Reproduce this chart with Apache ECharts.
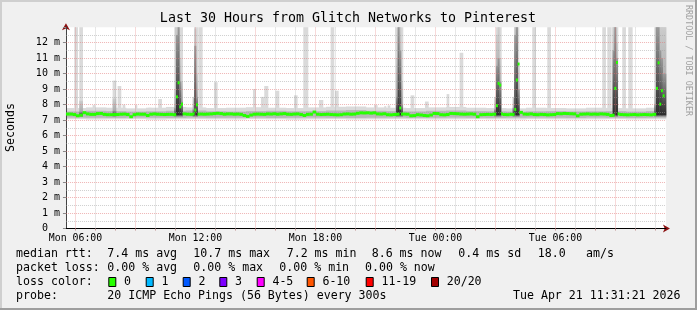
<!DOCTYPE html>
<html><head><meta charset="utf-8">
<script src="https://cdn.jsdelivr.net/npm/echarts@6/dist/echarts.min.js"></script>
<style>html,body{margin:0;padding:0;background:#f0f0f0;overflow:hidden}#c{width:697px;height:310px}</style>
</head><body><div id="c"></div><script>
// ---------------- data (minutes since Mon 05:31:21, values in ms) ----------------
const X_LABELS = ['Mon 06:00', 'Mon 12:00', 'Mon 18:00', 'Tue 00:00', 'Tue 06:00'];
const X_LABEL_MIN = [28.65, 388.65, 748.65, 1108.65, 1468.65];
const HOUR0_MIN = 28.65;      // first full hour (Mon 06:00)
const HOURS = 30;
const X_MAX = 1800;

const MED_STEP = 10;
const medBase = [
 7.39,7.39,7.36,7.28,7.32,7.48,7.40,7.37,7.37,7.42,
 7.43,7.37,7.35,7.35,7.36,7.36,7.38,7.39,7.36,7.22,
 7.35,7.39,7.38,7.38,7.30,7.38,7.40,7.38,7.37,7.36,
 7.37,7.37,7.35,null,null,7.40,7.38,7.37,null,null,
 7.39,7.38,7.39,7.40,7.42,7.44,7.42,7.38,7.40,7.40,
 7.38,7.39,7.37,7.30,7.24,7.33,7.38,7.39,7.38,7.37,
 7.40,7.39,7.41,7.38,7.40,7.42,7.38,7.37,7.39,7.40,
 7.36,7.30,7.37,7.38,7.52,7.38,7.36,7.37,7.38,7.36,
 7.35,7.34,7.35,7.39,7.40,7.38,7.39,7.44,7.47,7.46,
 7.47,7.45,7.47,7.40,7.39,7.41,7.35,7.34,7.36,7.38,
 null,7.39,7.38,7.28,7.29,7.35,7.33,7.30,7.28,7.33,
 7.43,7.42,7.35,7.34,7.36,7.43,7.42,7.41,7.39,7.38,
 7.39,7.40,7.38,7.22,7.35,7.36,7.37,7.36,7.38,null,
 null,7.36,7.35,7.37,null,null,7.50,7.39,7.38,7.40,
 7.36,7.35,7.37,7.36,7.34,7.35,7.36,7.42,7.41,7.43,
 7.42,7.41,7.40,7.28,7.38,7.39,7.40,7.38,7.39,7.38,
 7.40,7.39,7.37,7.30,null,null,7.36,7.35,7.34,7.35,
 7.36,7.34,7.35,7.36,7.35,7.34,7.37,null,null,null
];
const SPIKE_STEP = 5;
const spikeT = [330,335,340,345, 380,385,390,395, 1000,1005, 1290,1295,1300,1305,
                1340,1345,1350,1355, 1640,1645,1650,1655, 1770,1775,1780,1785,1790];
const spikeV = [8.50,9.41,7.86,8.03, 7.40,7.65,7.99,7.38, 7.78,7.39, 7.93,9.37,9.26,7.40,
                7.36,7.69,9.59,10.62, 7.32,9.05,10.72,7.40, 9.05,10.70,8.03,8.90,8.57];

// baseline smoke band, hourly
const BAND_STEP = 60;
const bandLo    = [7.06,7.04,7.05,7.06,7.03,7.05,7.06,7.05,7.04,7.06,7.05,7.03,7.05,7.06,7.04,7.05,7.06,7.05,7.04,7.05,7.06,7.05,7.04,7.06,7.05,7.04,7.05,7.06,7.04,7.05];
const bandMidLo = [7.16,7.15,7.14,7.16,7.15,7.14,7.16,7.15,7.15,7.16,7.14,7.15,7.16,7.15,7.14,7.15,7.16,7.14,7.15,7.16,7.15,7.14,7.15,7.16,7.15,7.14,7.16,7.15,7.14,7.15];
const bandMid   = [7.56,7.60,7.58,7.55,7.57,7.60,7.62,7.57,7.55,7.58,7.60,7.57,7.58,7.62,7.65,7.60,7.58,7.56,7.60,7.62,7.58,7.57,7.55,7.57,7.58,7.56,7.57,7.58,7.55,7.58];
const bandHi    = [7.78,7.82,7.80,7.76,7.80,7.85,7.82,7.78,7.80,7.83,7.80,7.78,7.82,7.86,7.88,7.82,7.80,7.78,7.82,7.85,7.80,7.78,7.76,7.80,7.78,7.76,7.80,7.78,7.76,7.80];

// max-ping (light smoke) bars
const maxS   = [25,40,80,140,155,170,207,247,277,325,384,397,444,561,585,595,629,684,712,759,794,807,924,955,965,989,1034,1077,1142,1181,1290,1344,1399,1444,1609,1624,1639,1669,1687,1765];
const maxE   = [35,50,87,150,165,177,213,255,287,350,395,409,454,569,595,606,639,694,726,771,804,817,934,960,972,1011,1044,1087,1149,1191,1306,1359,1409,1454,1619,1636,1656,1679,1699,1800];
const maxTop = [13,13,7.97,9.55,9.2,8.0,7.97,7.8,8.36,13,13,13,9.45,9.0,8.5,9.2,8.9,8.6,13,8.3,13,8.9,7.97,7.9,7.95,13,8.6,8.2,8.68,11.35,13,13,13,13,13,13,13,13,13,13];

// dense smoke during spikes
const coreS    = [40,140,325,330,335,340,345,380,385,390,990,995,1000,1005,1285,1290,1295,1300,1340,1345,1350,1355,1640,1645,1650,1765,1770,1775,1780,1785,1790];
const coreE    = [50,150,330,335,340,345,350,385,390,395,995,1000,1005,1010,1290,1295,1300,1305,1345,1350,1355,1360,1645,1650,1655,1770,1775,1780,1785,1790,1800];
const coreMid  = [8.25,8.4,9.0,13,13,11,9.5,8.5,12.9,10,11,13,13,9.5,8.5,12.5,13,11,8.5,13,13,10.5,13,13,12,9,13,13,13,13,13];
const coreDark = [7.55,7.6,7.8,12.5,13,9.5,8.2,7.7,11.8,8.5,8.5,13,11.5,8,7.7,10.5,11,9.5,7.8,12.5,13,9,11.5,13,11,8,13,13,11.5,11,10];

// legend texts
const L_RTT  = ['median rtt:', '7.4 ms avg', '10.7 ms max', '7.2 ms min', '8.6 ms now', '0.4 ms sd', '18.0', 'am/s'];
const L_LOSS = ['packet loss:', '0.00 % avg', '0.00 % max', '0.00 % min', '0.00 % now'];
const LOSS_NAMES  = ['0', '1', '2', '3', '4-5', '6-10', '11-19', '20/20'];
const LOSS_COLORS = ['#26ff00', '#00b8ff', '#0059ff', '#7e00ff', '#ff00ff', '#ff5500', '#ff0000', '#a10000'];
const PROBE = '20 ICMP Echo Pings (56 Bytes) every 300s';
const STAMP = 'Tue Apr 21 11:31:21 2026';
const TITLE = 'Last 30 Hours from Glitch Networks to Pinterest';

// ---------------- layout / style ----------------
const FONT = '"DejaVu Sans Mono", monospace';
const GL = 65.95, GW = 600, GT = 27.2, GB = 81.5;
const RED_GRID = 'rgba(225,120,120,0.55)', GRAY_GRID = 'rgba(160,160,160,0.5)';

const medData = [];
medBase.forEach((v, j) => { if (v != null) medData.push([j * MED_STEP, j * MED_STEP + MED_STEP, v]); });
spikeT.forEach((t, k) => medData.push([t, t + SPIKE_STEP, spikeV[k]]));

const lightData = [], midData = [];
bandLo.forEach((v, k) => {
  lightData.push([k * BAND_STEP, k * BAND_STEP + BAND_STEP, v, bandHi[k]]);
  midData.push([k * BAND_STEP, k * BAND_STEP + BAND_STEP, bandMidLo[k], bandMid[k]]);
});
maxS.forEach((s, k) => lightData.push([s, maxE[k], 7.4, maxTop[k]]));
const coreMidData = coreS.map((s, k) => [s, coreE[k], 7.2, coreMid[k]]);
const coreDarkData = coreS.map((s, k) => [s, coreE[k], 7.3, coreDark[k]]);

function rectRender(fill) {
  return function (params, api) {
    const a = api.coord([api.value(0), api.value(3)]);
    const b = api.coord([api.value(1), api.value(2)]);
    return { type: 'rect', shape: { x: a[0], y: a[1], width: b[0] - a[0] + 0.35, height: b[1] - a[1] }, style: { fill: fill } };
  };
}
function smoke(name, data, fill, z) {
  return { type: 'custom', name, coordinateSystem: 'cartesian2d', xAxisIndex: 1, yAxisIndex: 1, z, silent: true,
    data, encode: { x: [0, 1], y: [2, 3] }, renderItem: rectRender(fill) };
}
const grad = (top, bottom) => ({ type: 'linear', x: 0, y: 0, x2: 0, y2: 1, colorStops: [{ offset: 0, color: top }, { offset: 1, color: bottom }] });

const gridLines = [];
for (let k = 0; k < HOURS; k++) gridLines.push({ xAxis: HOUR0_MIN + 60 * k, lineStyle: { color: k % 3 === 0 ? RED_GRID : GRAY_GRID, type: [1, 1], width: 1 } });
for (let h = 1; h <= 25; h++) gridLines.push({ yAxis: h / 2, lineStyle: { color: h % 2 === 0 ? RED_GRID : GRAY_GRID, type: [1, 1], width: 1 } });

const hourTicks = [];
for (let k = 0; k < HOURS; k++) hourTicks.push(HOUR0_MIN + 60 * k);

function T(x, y, s, size, extra) {
  return Object.assign({ type: 'text', x, y, silent: true, style: { text: s, font: size + 'px ' + FONT, fill: '#000', align: 'left', verticalAlign: 'middle' } }, extra || {});
}
const LEG = 11.6;
const graphics = [
  { type: 'rect', shape: { x: 0, y: 0, width: 697, height: 2 }, style: { fill: '#cfcfcf' }, silent: true },
  { type: 'rect', shape: { x: 0, y: 0, width: 2, height: 310 }, style: { fill: '#cfcfcf' }, silent: true },
  { type: 'rect', shape: { x: 0, y: 308, width: 697, height: 2 }, style: { fill: '#9e9e9e' }, silent: true },
  { type: 'rect', shape: { x: 695, y: 0, width: 2, height: 310 }, style: { fill: '#9e9e9e' }, silent: true },
  T(348, 19, TITLE, 13.3, { style: { text: TITLE, font: '13.3px ' + FONT, fill: '#000', align: 'center', verticalAlign: 'middle' } }),
  { type: 'text', x: 10.5, y: 127.5, rotation: Math.PI / 2, silent: true, style: { text: 'Seconds', font: LEG + 'px ' + FONT, fill: '#000', align: 'center', verticalAlign: 'middle' } },
  { type: 'text', x: 688, y: 60.5, rotation: -Math.PI / 2, silent: true, style: { text: 'RRDTOOL / TOBI OETIKER', font: '8.4px ' + FONT, fill: '#a0a0a0', align: 'center', verticalAlign: 'middle' } }
];
const RTT_X = [16, 107.3, 193.3, 286.7, 371.7, 458.3, 537.7, 586];
L_RTT.forEach((s, i) => graphics.push(T(RTT_X[i], 254.3, s, LEG)));
const LOSS_X = [16, 107.3, 193.3, 279.3, 365];
L_LOSS.forEach((s, i) => graphics.push(T(LOSS_X[i], 268.3, s, LEG)));
graphics.push(T(16, 282.3, 'loss color:', LEG));
const BOX_X = [108.3, 145.7, 182.7, 219.3, 256.7, 306.7, 365.7, 431];
LOSS_NAMES.forEach((s, i) => {
  graphics.push({ type: 'rect', silent: true, shape: { x: BOX_X[i] + 0.5, y: 277.5, width: 7, height: 9 }, style: { fill: LOSS_COLORS[i], stroke: '#000', lineWidth: 1 } });
  graphics.push(T(BOX_X[i] + 15.7, 282.3, s, LEG));
});
graphics.push(T(16, 296, 'probe:', LEG));
graphics.push(T(107.3, 296, PROBE, LEG));
graphics.push({ type: 'text', x: 680.5, y: 296, silent: true, style: { text: STAMP, font: LEG + 'px ' + FONT, fill: '#000', align: 'right', verticalAlign: 'middle' } });

const axisCommon = { type: 'value', splitLine: { show: false } };
const option = {
  animation: false,
  backgroundColor: '#f0f0f0',
  grid: { left: GL, width: GW, top: GT, bottom: GB, show: true, backgroundColor: '#ffffff', borderWidth: 0 },
  xAxis: [
    Object.assign({}, axisCommon, { min: 0, max: X_MAX, position: 'bottom', z: 1,
      axisLine: { show: true, onZero: false, symbol: ['none', 'arrow'], symbolSize: [6, 7], symbolOffset: [0, 4], lineStyle: { color: '#8b1010', width: 1 } },
      axisTick: { show: false }, axisLabel: { show: false } }),
    Object.assign({}, axisCommon, { min: 0, max: X_MAX, position: 'bottom', z: 3,
      axisLine: { show: true, onZero: false, lineStyle: { color: '#000', width: 1 } },
      axisTick: { show: true, customValues: hourTicks, length: 2, lineStyle: { color: '#c09090' } },
      axisLabel: { show: true, customValues: X_LABEL_MIN, margin: 5, color: '#000', fontFamily: FONT, fontSize: 9.9,
        formatter: v => { let bi = 0; X_LABEL_MIN.forEach((t, i) => { if (Math.abs(t - v) < Math.abs(X_LABEL_MIN[bi] - v)) bi = i; }); return X_LABELS[bi]; } } })
  ],
  yAxis: [
    Object.assign({}, axisCommon, { min: 0, max: 13, position: 'left', z: 1,
      axisLine: { show: true, onZero: false, symbol: ['none', 'arrow'], symbolSize: [6, 7], symbolOffset: [0, 4], lineStyle: { color: '#8b1010', width: 1 } },
      axisTick: { show: false }, axisLabel: { show: false } }),
    Object.assign({}, axisCommon, { min: 0, max: 13, interval: 1, position: 'left', z: 3,
      axisLine: { show: true, onZero: false, lineStyle: { color: '#444', width: 1 } },
      axisTick: { show: true, length: 3, lineStyle: { color: '#888' } },
      axisLabel: { show: true, margin: 6, color: '#000', fontFamily: FONT, fontSize: 10,
        formatter: v => v === 0 ? '0  ' : (v > 12 ? '' : v + ' m') } })
  ],
  graphic: graphics,
  series: [
    smoke('light', lightData, '#dadada', 1),
    smoke('mid', midData, '#b8b8b8', 2),
    smoke('coreMid', coreMidData, grad('#cccccc', '#999999'), 3),
    smoke('coreDark', coreDarkData, grad('#9a9a9a', '#2a2a2a'), 4),
    { type: 'line', name: 'grid', xAxisIndex: 1, yAxisIndex: 1, data: [], z: 5, silent: true,
      markLine: { silent: true, symbol: ['none', 'none'], label: { show: false }, animation: false, data: gridLines } },
    { type: 'custom', name: 'median', coordinateSystem: 'cartesian2d', xAxisIndex: 1, yAxisIndex: 1, z: 6, silent: true,
      data: medData, encode: { x: [0, 1], y: 2 },
      renderItem: function (params, api) {
        const a = api.coord([api.value(0), api.value(2)]);
        const b = api.coord([api.value(1), api.value(2)]);
        return { type: 'rect', shape: { x: a[0], y: a[1] - 1.5, width: b[0] - a[0] + 0.3, height: 3 }, style: { fill: '#26ff00' } };
      } }
  ]
};
const chart = echarts.init(document.getElementById('c'), null, { renderer: 'canvas' });
chart.setOption(option);
</script></body></html>
